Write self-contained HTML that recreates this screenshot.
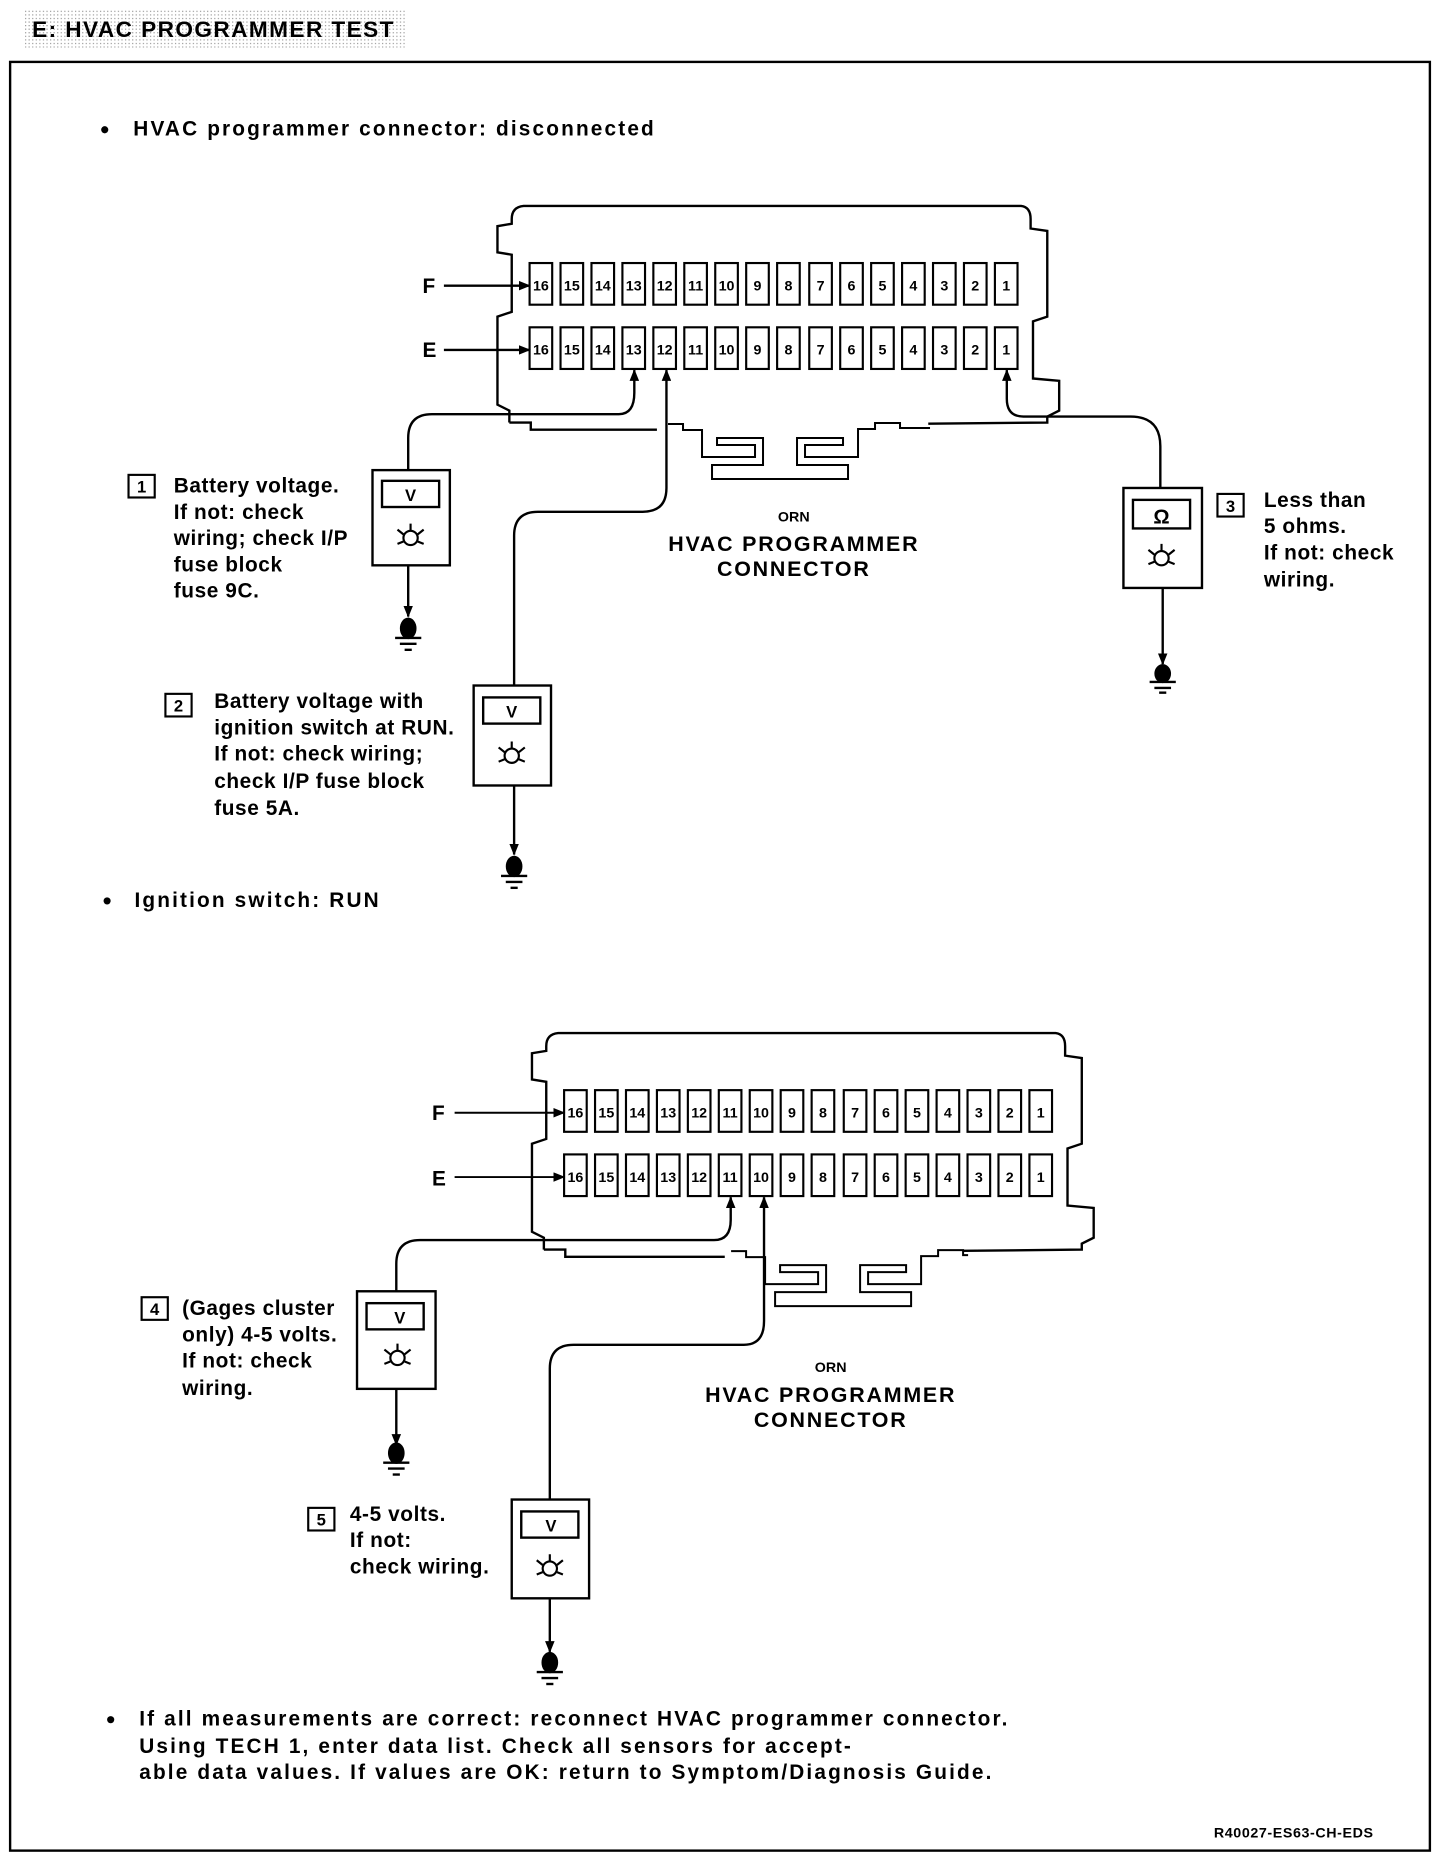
<!DOCTYPE html>
<html><head><meta charset="utf-8"><style>
html,body{margin:0;padding:0;background:#fff;}
svg{display:block;}
text{font-family:"Liberation Sans",sans-serif;font-weight:bold;fill:#000;}
.t{font-size:17.5px;letter-spacing:0.5px;}
.b{font-size:17.5px;letter-spacing:1.8px;}
.c{font-size:12px;}
</style></head><body>
<svg width="1440" height="1856" viewBox="0 0 1210 1559.5" xmlns="http://www.w3.org/2000/svg">
<defs>
<pattern id="dots" width="3" height="3" patternUnits="userSpaceOnUse"><rect width="3" height="3" fill="#fff"/><rect width="1" height="1" fill="#999"/></pattern>
<marker id="ah" markerWidth="10" markerHeight="8" refX="9" refY="4" orient="auto" markerUnits="userSpaceOnUse"><path d="M0,0 L10,4 L0,8 z" fill="#000"/></marker>
</defs>
<rect x="20" y="8" width="322" height="32" fill="url(#dots)"/>
<text x="27" y="31" style="font-size:19px;letter-spacing:1.2px">E:  HVAC PROGRAMMER TEST</text>
<rect x="8.5" y="52" width="1193" height="1503" fill="none" stroke="#000" stroke-width="2"/>

<circle cx="88" cy="109" r="3"/>
<text class="b" x="112" y="114">HVAC programmer connector: disconnected</text>

<!-- Connector 1 -->
<g fill="none" stroke="#000" stroke-width="2">
<path d="M430,184 Q430,174 440,173 L858,173 Q866,174 866,184 L866,192 L880,194 L880,266 L868,270 L868,318 L890,320 L890,345 L880,350 L880,355 L780,356 M428,355 L428,345 L418,340 L418,266 L430,262 L430,214 L418,212 L418,190 L430,188 L430,184 M428,355 L446,355 L446,361 L552,361"/>
<g transform="scale(0.8403)">
<path d="M668,424 L683,424 L683,430 L702,430 L702,457 L755,457 L755,445 L717,445 L717,438 L763,438 L763,465 L712,465 L712,479 L848,479 L848,465 L797,465 L797,438 L843,438 L843,445 L805,445 L805,457 L858,457 L858,429 L875,429 L875,423 L900,423 L900,428 L930,428"/>
</g>
</g>
<g fill="#fff" stroke="#000" stroke-width="1.8">
<rect x="445" y="221" width="19" height="35"/><rect x="471" y="221" width="19" height="35"/><rect x="497" y="221" width="19" height="35"/><rect x="523" y="221" width="19" height="35"/><rect x="549" y="221" width="19" height="35"/><rect x="575" y="221" width="19" height="35"/><rect x="601" y="221" width="19" height="35"/><rect x="627" y="221" width="19" height="35"/><rect x="653" y="221" width="19" height="35"/><rect x="680" y="221" width="19" height="35"/><rect x="706" y="221" width="19" height="35"/><rect x="732" y="221" width="19" height="35"/><rect x="758" y="221" width="19" height="35"/><rect x="784" y="221" width="19" height="35"/><rect x="810" y="221" width="19" height="35"/><rect x="836" y="221" width="19" height="35"/>
<rect x="445" y="275" width="19" height="35"/><rect x="471" y="275" width="19" height="35"/><rect x="497" y="275" width="19" height="35"/><rect x="523" y="275" width="19" height="35"/><rect x="549" y="275" width="19" height="35"/><rect x="575" y="275" width="19" height="35"/><rect x="601" y="275" width="19" height="35"/><rect x="627" y="275" width="19" height="35"/><rect x="653" y="275" width="19" height="35"/><rect x="680" y="275" width="19" height="35"/><rect x="706" y="275" width="19" height="35"/><rect x="732" y="275" width="19" height="35"/><rect x="758" y="275" width="19" height="35"/><rect x="784" y="275" width="19" height="35"/><rect x="810" y="275" width="19" height="35"/><rect x="836" y="275" width="19" height="35"/>
</g>
<g text-anchor="middle" style="font-size:12px">
<text x="454.5" y="244">16</text><text x="480.5" y="244">15</text><text x="506.5" y="244">14</text><text x="532.5" y="244">13</text><text x="558.5" y="244">12</text><text x="584.5" y="244">11</text><text x="610.5" y="244">10</text><text x="636.5" y="244">9</text><text x="662.5" y="244">8</text><text x="689.5" y="244">7</text><text x="715.5" y="244">6</text><text x="741.5" y="244">5</text><text x="767.5" y="244">4</text><text x="793.5" y="244">3</text><text x="819.5" y="244">2</text><text x="845.5" y="244">1</text>
<text x="454.5" y="298">16</text><text x="480.5" y="298">15</text><text x="506.5" y="298">14</text><text x="532.5" y="298">13</text><text x="558.5" y="298">12</text><text x="584.5" y="298">11</text><text x="610.5" y="298">10</text><text x="636.5" y="298">9</text><text x="662.5" y="298">8</text><text x="689.5" y="298">7</text><text x="715.5" y="298">6</text><text x="741.5" y="298">5</text><text x="767.5" y="298">4</text><text x="793.5" y="298">3</text><text x="819.5" y="298">2</text><text x="845.5" y="298">1</text>
</g>
<text class="t" x="355" y="246">F</text><text class="t" x="355" y="300">E</text>
<g stroke="#000" stroke-width="2" fill="none">
<line x1="373" y1="240" x2="445" y2="240" marker-end="url(#ah)"/>
<line x1="373" y1="294" x2="445" y2="294" marker-end="url(#ah)"/>
<path d="M343,395 L343,368 Q343,348 363,348 L520,348 Q533,348 533,330 L533,311" marker-end="url(#ah)"/>
<path d="M432,576 L432,450 Q432,430 452,430 L540,430 Q560,430 560,410 L560,311" marker-end="url(#ah)"/>
<path d="M975,410 L975,375 Q975,350 950,350 L860,350 Q846,350 846,335 L846,311" marker-end="url(#ah)"/>
<line x1="343" y1="475" x2="343" y2="518" marker-end="url(#ah)"/>
<line x1="432" y1="660" x2="432" y2="718" marker-end="url(#ah)"/>
<line x1="977" y1="494" x2="977" y2="558" marker-end="url(#ah)"/>
</g>

<g stroke="#000" stroke-width="2" fill="#fff">
<rect x="313" y="395" width="65" height="80"/><rect x="321" y="404" width="48" height="22"/>
<rect x="398" y="576" width="65" height="84"/><rect x="406" y="586" width="48" height="22"/>
<rect x="944" y="410" width="66" height="84"/><rect x="952" y="420" width="48" height="24"/>
</g>
<text x="345" y="421" text-anchor="middle" style="font-size:14px">V</text>
<text x="430" y="603" text-anchor="middle" style="font-size:14px">V</text>
<text x="976" y="440" text-anchor="middle" style="font-size:17px">Ω</text>
<g stroke="#000" stroke-width="1.8" fill="none">
<g transform="translate(345,452)"><circle r="6"/><path d="M0,-6 L0,-12 M-6,-3 L-11,-7 M6,-3 L11,-7 M-6,3 L-11,5 M6,3 L11,5"/></g>
<g transform="translate(430,635)"><circle r="6"/><path d="M0,-6 L0,-12 M-6,-3 L-11,-7 M6,-3 L11,-7 M-6,3 L-11,5 M6,3 L11,5"/></g>
<g transform="translate(976,469)"><circle r="6"/><path d="M0,-6 L0,-12 M-6,-3 L-11,-7 M6,-3 L11,-7 M-6,3 L-11,5 M6,3 L11,5"/></g>
</g>
<g stroke="#000" stroke-width="2">
<g transform="translate(343,520)"><ellipse cx="0" cy="8" rx="6" ry="8" fill="#000"/><line x1="-11" y1="16" x2="11" y2="16"/><line x1="-7" y1="21" x2="7" y2="21"/><line x1="-3" y1="26" x2="3" y2="26"/></g>
<g transform="translate(432,720)"><ellipse cx="0" cy="8" rx="6" ry="8" fill="#000"/><line x1="-11" y1="16" x2="11" y2="16"/><line x1="-7" y1="21" x2="7" y2="21"/><line x1="-3" y1="26" x2="3" y2="26"/></g>
<g transform="translate(977,560)"><ellipse cx="0" cy="6" rx="6" ry="7" fill="#000"/><line x1="-11" y1="13" x2="11" y2="13"/><line x1="-7" y1="18" x2="7" y2="18"/><line x1="-3" y1="22" x2="3" y2="22"/></g>
</g>
<g fill="none" stroke="#000" stroke-width="1.8">
<rect x="108" y="399" width="22" height="19"/><rect x="139" y="583" width="22" height="19"/><rect x="1023" y="415" width="22" height="19"/>
</g>
<text x="119" y="414" text-anchor="middle" style="font-size:14px">1</text>
<text x="150" y="598" text-anchor="middle" style="font-size:14px">2</text>
<text x="1034" y="430" text-anchor="middle" style="font-size:14px">3</text>
<g class="t">
<text x="146" y="414">Battery voltage.</text><text x="146" y="436">If not: check</text><text x="146" y="458">wiring; check I/P</text><text x="146" y="480">fuse block</text><text x="146" y="502">fuse 9C.</text>
<text x="180" y="595">Battery voltage with</text><text x="180" y="617">ignition switch at RUN.</text><text x="180" y="639">If not: check wiring;</text><text x="180" y="662">check I/P fuse block</text><text x="180" y="685">fuse 5A.</text>
<text x="1062" y="426">Less than</text><text x="1062" y="448">5 ohms.</text><text x="1062" y="470">If not: check</text><text x="1062" y="493">wiring.</text>
</g>
<text x="667" y="438" text-anchor="middle" style="font-size:12px">ORN</text>
<text x="667" y="463" text-anchor="middle" style="font-size:18px;letter-spacing:1.5px">HVAC PROGRAMMER</text>
<text x="667" y="484" text-anchor="middle" style="font-size:18px;letter-spacing:1.5px">CONNECTOR</text>

<circle cx="90" cy="757" r="3"/>
<text class="b" x="113" y="762">Ignition switch:  RUN</text>

<!-- Connector 2 -->
<g transform="translate(29,695)">
<g fill="none" stroke="#000" stroke-width="2">
<path d="M430,184 Q430,174 440,173 L858,173 Q866,174 866,184 L866,192 L880,194 L880,266 L868,270 L868,318 L890,320 L890,345 L880,350 L880,355 L780,356 M428,355 L428,345 L418,340 L418,266 L430,262 L430,214 L418,212 L418,190 L430,188 L430,184 M428,355 L446,355 L446,361 L580,361"/>
<g transform="translate(24,0) scale(0.8403)">
<path d="M668,424 L683,424 L683,430 L702,430 L702,457 L755,457 L755,445 L717,445 L717,438 L763,438 L763,465 L712,465 L712,479 L848,479 L848,465 L797,465 L797,438 L843,438 L843,445 L805,445 L805,457 L858,457 L858,429 L875,429 L875,423 L900,423 L900,428 L905,428"/>
</g>
</g>
<g fill="#fff" stroke="#000" stroke-width="1.8">
<rect x="445" y="221" width="19" height="35"/><rect x="471" y="221" width="19" height="35"/><rect x="497" y="221" width="19" height="35"/><rect x="523" y="221" width="19" height="35"/><rect x="549" y="221" width="19" height="35"/><rect x="575" y="221" width="19" height="35"/><rect x="601" y="221" width="19" height="35"/><rect x="627" y="221" width="19" height="35"/><rect x="653" y="221" width="19" height="35"/><rect x="680" y="221" width="19" height="35"/><rect x="706" y="221" width="19" height="35"/><rect x="732" y="221" width="19" height="35"/><rect x="758" y="221" width="19" height="35"/><rect x="784" y="221" width="19" height="35"/><rect x="810" y="221" width="19" height="35"/><rect x="836" y="221" width="19" height="35"/>
<rect x="445" y="275" width="19" height="35"/><rect x="471" y="275" width="19" height="35"/><rect x="497" y="275" width="19" height="35"/><rect x="523" y="275" width="19" height="35"/><rect x="549" y="275" width="19" height="35"/><rect x="575" y="275" width="19" height="35"/><rect x="601" y="275" width="19" height="35"/><rect x="627" y="275" width="19" height="35"/><rect x="653" y="275" width="19" height="35"/><rect x="680" y="275" width="19" height="35"/><rect x="706" y="275" width="19" height="35"/><rect x="732" y="275" width="19" height="35"/><rect x="758" y="275" width="19" height="35"/><rect x="784" y="275" width="19" height="35"/><rect x="810" y="275" width="19" height="35"/><rect x="836" y="275" width="19" height="35"/>
</g>
<g text-anchor="middle" style="font-size:12px">
<text x="454.5" y="244">16</text><text x="480.5" y="244">15</text><text x="506.5" y="244">14</text><text x="532.5" y="244">13</text><text x="558.5" y="244">12</text><text x="584.5" y="244">11</text><text x="610.5" y="244">10</text><text x="636.5" y="244">9</text><text x="662.5" y="244">8</text><text x="689.5" y="244">7</text><text x="715.5" y="244">6</text><text x="741.5" y="244">5</text><text x="767.5" y="244">4</text><text x="793.5" y="244">3</text><text x="819.5" y="244">2</text><text x="845.5" y="244">1</text>
<text x="454.5" y="298">16</text><text x="480.5" y="298">15</text><text x="506.5" y="298">14</text><text x="532.5" y="298">13</text><text x="558.5" y="298">12</text><text x="584.5" y="298">11</text><text x="610.5" y="298">10</text><text x="636.5" y="298">9</text><text x="662.5" y="298">8</text><text x="689.5" y="298">7</text><text x="715.5" y="298">6</text><text x="741.5" y="298">5</text><text x="767.5" y="298">4</text><text x="793.5" y="298">3</text><text x="819.5" y="298">2</text><text x="845.5" y="298">1</text>
</g>
</g>
<text class="t" x="363" y="941">F</text><text class="t" x="363" y="996">E</text>
<g stroke="#000" stroke-width="1.6" fill="none">
<line x1="382" y1="935" x2="474" y2="935" marker-end="url(#ah)"/>
<line x1="382" y1="989" x2="474" y2="989" marker-end="url(#ah)"/>
</g>
<g stroke="#000" stroke-width="2" fill="none">
<path d="M333,1085 L333,1062 Q333,1042 353,1042 L600,1042 Q614,1042 614,1025 L614,1006" marker-end="url(#ah)"/>
<path d="M462,1260 L462,1150 Q462,1130 482,1130 L625,1130 Q642,1130 642,1110 L642,1006" marker-end="url(#ah)"/>
<line x1="333" y1="1167" x2="333" y2="1214" marker-end="url(#ah)"/>
<line x1="462" y1="1343" x2="462" y2="1388" marker-end="url(#ah)"/>
</g>
<g stroke="#000" stroke-width="2" fill="#fff">
<rect x="300" y="1085" width="66" height="82"/><rect x="308" y="1095" width="48" height="22"/>
<rect x="430" y="1260" width="65" height="83"/><rect x="438" y="1270" width="48" height="22"/>
</g>
<text x="336" y="1112" text-anchor="middle" style="font-size:14px">V</text>
<text x="463" y="1287" text-anchor="middle" style="font-size:14px">V</text>
<g stroke="#000" stroke-width="1.8" fill="none">
<g transform="translate(334,1141)"><circle r="6"/><path d="M0,-6 L0,-12 M-6,-3 L-11,-7 M6,-3 L11,-7 M-6,3 L-11,5 M6,3 L11,5"/></g>
<g transform="translate(462,1318)"><circle r="6"/><path d="M0,-6 L0,-12 M-6,-3 L-11,-7 M6,-3 L11,-7 M-6,3 L-11,5 M6,3 L11,5"/></g>
</g>
<g stroke="#000" stroke-width="2">
<g transform="translate(333,1214)"><ellipse cx="0" cy="7" rx="6" ry="8" fill="#000"/><line x1="-11" y1="15" x2="11" y2="15"/><line x1="-7" y1="20" x2="7" y2="20"/><line x1="-3" y1="25" x2="3" y2="25"/></g>
<g transform="translate(462,1390)"><ellipse cx="0" cy="7" rx="6" ry="8" fill="#000"/><line x1="-11" y1="15" x2="11" y2="15"/><line x1="-7" y1="20" x2="7" y2="20"/><line x1="-3" y1="25" x2="3" y2="25"/></g>
</g>
<g fill="none" stroke="#000" stroke-width="1.8">
<rect x="119" y="1090" width="22" height="19"/><rect x="259" y="1267" width="22" height="19"/>
</g>
<text x="130" y="1105" text-anchor="middle" style="font-size:14px">4</text>
<text x="270" y="1282" text-anchor="middle" style="font-size:14px">5</text>
<g class="t">
<text x="153" y="1105">(Gages cluster</text><text x="153" y="1127">only) 4-5 volts.</text><text x="153" y="1149">If not: check</text><text x="153" y="1172">wiring.</text>
<text x="294" y="1278">4-5 volts.</text><text x="294" y="1300">If not:</text><text x="294" y="1322">check wiring.</text>
</g>
<text x="698" y="1153" text-anchor="middle" style="font-size:12px">ORN</text>
<text x="698" y="1178" text-anchor="middle" style="font-size:18px;letter-spacing:1.5px">HVAC PROGRAMMER</text>
<text x="698" y="1199" text-anchor="middle" style="font-size:18px;letter-spacing:1.5px">CONNECTOR</text>

<circle cx="93" cy="1445" r="3"/>
<g class="b">
<text x="117" y="1450">If all measurements are correct: reconnect HVAC programmer connector.</text>
<text x="117" y="1473">Using TECH 1, enter data list. Check all sensors for accept-</text>
<text x="117" y="1495">able data values. If values are OK: return to Symptom/Diagnosis Guide.</text>
</g>
<text x="1020" y="1544" style="font-size:12px;letter-spacing:0.5px">R40027-ES63-CH-EDS</text>
</svg>
</body></html>
